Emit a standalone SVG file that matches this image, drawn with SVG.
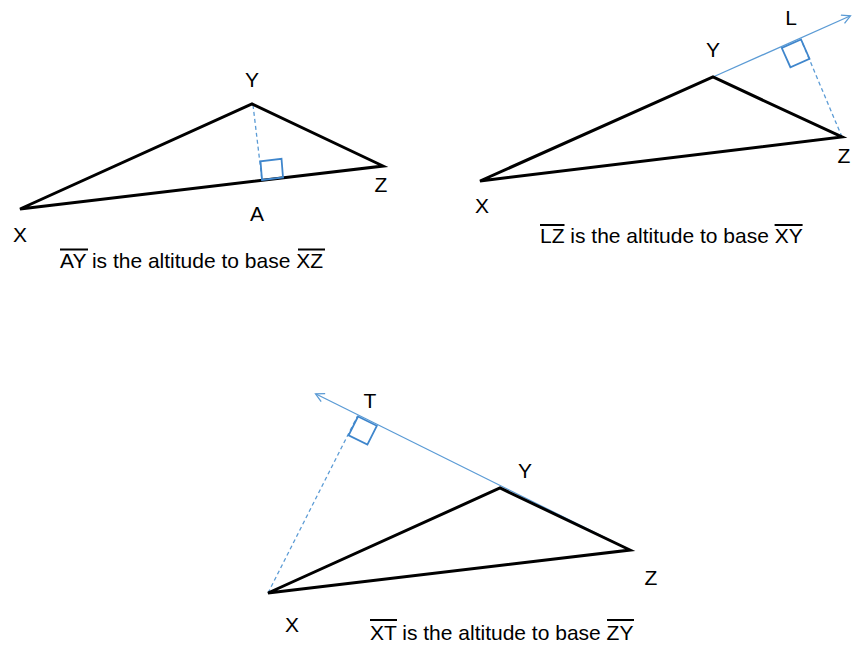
<svg xmlns="http://www.w3.org/2000/svg" width="852" height="647" viewBox="0 0 852 647">
<defs>
<style>
.tri{fill:none;stroke:#000;stroke-width:3;stroke-linejoin:miter}
.ext{fill:none;stroke:#5B9BD5;stroke-width:1.3}
.alt{fill:none;stroke:#5B9BD5;stroke-width:1.3;stroke-dasharray:4 3}
.box{fill:none;stroke:#3F86CC;stroke-width:1.8}
.lbl{font-family:"Liberation Sans",Arial,sans-serif;font-size:21px;fill:#000;text-anchor:middle}
.cap{font-family:"Liberation Sans",Arial,sans-serif;font-size:21px;fill:#000}
.ovl{stroke:#000;stroke-width:2}
</style>
<marker id="open" markerWidth="12" markerHeight="12" refX="9" refY="5" orient="auto" markerUnits="userSpaceOnUse">
<path d="M1,0.5 L9.5,5 L1,9.5" fill="none" stroke="#5B9BD5" stroke-width="1.3"/>
</marker>
</defs>
<rect width="852" height="647" fill="#fff"/>

<g id="figure1">
<g id="connectors1">
<line class="alt" x1="253" y1="105" x2="262" y2="180"/>
</g>
<polygon class="tri" points="20,209 252,104 383,166"/>
<polygon class="box" points="262,180 283,177.5 281.5,158.8 260.5,161.3"/>
<text class="lbl" x="252" y="87">Y</text>
<text class="lbl" x="381" y="192">Z</text>
<text class="lbl" x="257" y="221">A</text>
<text class="lbl" x="20" y="242">X</text>
<text class="cap" x="60" y="268">AY is the altitude to base XZ</text>
<line class="ovl" x1="60" y1="249.5" x2="88" y2="249.5"/>
<line class="ovl" x1="298" y1="249.5" x2="325" y2="249.5"/>
</g>

<g id="figure2">
<g id="connectors2">
<line class="ext" x1="713" y1="77" x2="850" y2="16" marker-end="url(#open)"/>
<line class="alt" x1="842" y1="137" x2="801" y2="39.5"/>
</g>
<polygon class="tri" points="480,181 713,77 842,137"/>
<polygon class="box" points="801,39.5 781.8,48 790.4,67.2 809.5,58.7"/>
<text class="lbl" x="791" y="25">L</text>
<text class="lbl" x="713" y="57">Y</text>
<text class="lbl" x="844" y="163">Z</text>
<text class="lbl" x="482" y="213">X</text>
<text class="cap" x="540" y="243">LZ is the altitude to base XY</text>
<line class="ovl" x1="540" y1="225" x2="564.5" y2="225"/>
<line class="ovl" x1="774.6" y1="225" x2="802.6" y2="225"/>
</g>

<g id="figure3">
<g id="connectors3">
<line class="ext" x1="630" y1="550" x2="316" y2="394" marker-end="url(#open)"/>
<line class="alt" x1="268" y1="593" x2="357.5" y2="416"/>
</g>
<polygon class="tri" points="268,593 500,488 630,550"/>
<polygon class="box" points="358,416.5 376.8,425.8 367.4,444.6 348.6,435.3"/>
<text class="lbl" x="370" y="408">T</text>
<text class="lbl" x="525" y="478">Y</text>
<text class="lbl" x="651" y="585">Z</text>
<text class="lbl" x="292" y="632">X</text>
<text class="cap" x="370" y="640">XT is the altitude to base ZY</text>
<line class="ovl" x1="370" y1="620" x2="397" y2="620"/>
<line class="ovl" x1="607" y1="620" x2="634" y2="620"/>
</g>
</svg>
